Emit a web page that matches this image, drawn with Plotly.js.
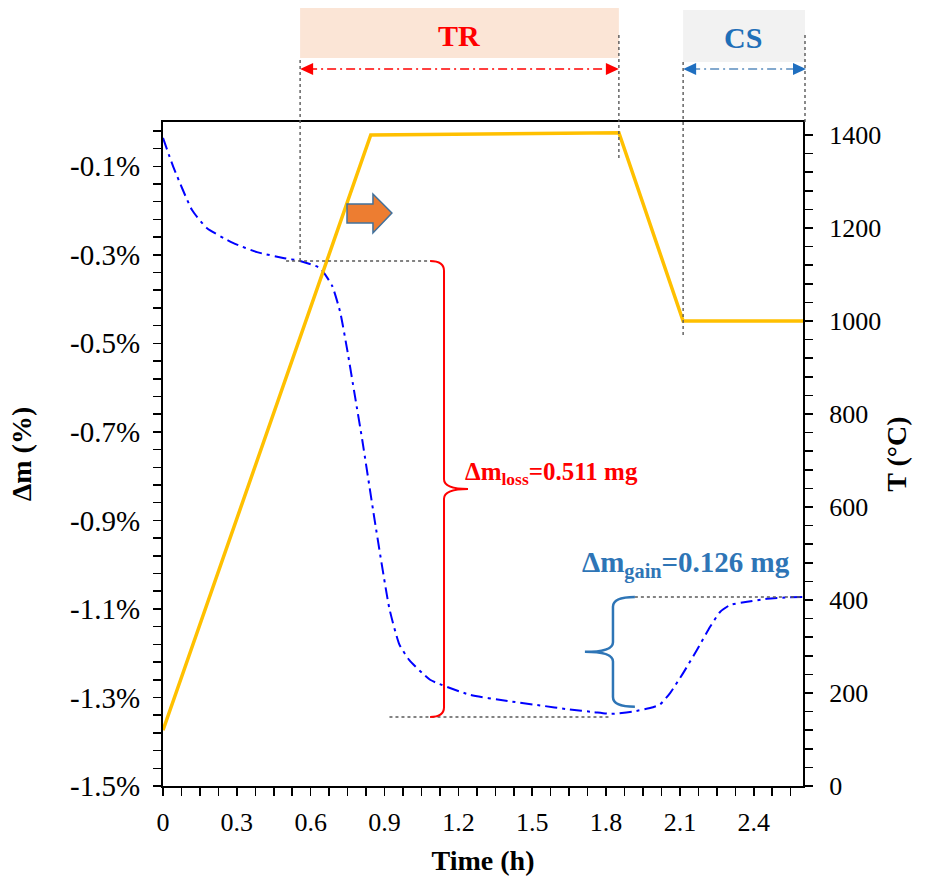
<!DOCTYPE html>
<html>
<head>
<meta charset="utf-8">
<script src="https://cdn.plot.ly/plotly-3.0.1.min.js"></script>
<style>
  html, body { margin: 0; padding: 0; background: #ffffff; }
  #chart { width: 931px; height: 881px; }
</style>
</head>
<body>
<div id="chart"></div>
<script>
// Mass change during the thermal program (left axis, %)
const massTime = [0, 0.041, 0.118, 0.179, 0.284, 0.382, 0.488, 0.557, 0.638, 0.687, 0.720,
                  0.750, 0.780, 0.810, 0.860, 0.920, 0.960, 1.000, 1.085, 1.247, 1.400,
                  1.532, 1.650, 1.750, 1.820, 1.909, 1.991, 2.019, 2.060, 2.113, 2.169,
                  2.222, 2.263, 2.304, 2.373, 2.454, 2.535, 2.600];
const massChange = [-0.036, -0.100, -0.199, -0.240, -0.273, -0.294, -0.307, -0.314, -0.330, -0.370, -0.430,
                    -0.520, -0.620, -0.720, -0.900, -1.100, -1.180, -1.215, -1.260, -1.294, -1.308,
                    -1.318, -1.327, -1.333, -1.337, -1.332, -1.322, -1.316, -1.290, -1.245, -1.193,
                    -1.141, -1.107, -1.091, -1.084, -1.077, -1.074, -1.073];

// Furnace temperature program (right axis, °C)
const tempTime = [0, 0.844, 1.852, 2.113, 2.600];
const temperature = [120, 1400, 1405, 1000, 1000];

// Axis ticks
const massTickVals = [-0.1, -0.3, -0.5, -0.7, -0.9, -1.1, -1.3, -1.5];
const massTickText = ['-0.1%', '-0.3%', '-0.5%', '-0.7%', '-0.9%', '-1.1%', '-1.3%', '-1.5%'];
const timeTickVals = [0, 0.3, 0.6, 0.9, 1.2, 1.5, 1.8, 2.1, 2.4];
const timeTickText = ['0', '0.3', '0.6', '0.9', '1.2', '1.5', '1.8', '2.1', '2.4'];

// Stage boundaries (h) and mass levels (%) used by the markers
const stageTR = [0.557, 1.852];
const stageCS = [2.113, 2.600];
const lossLevels = [-0.314, -1.344];
const gainLevels = [-1.073, -1.321];
const lossLabel = 'Δm<sub>loss</sub>=0.511 mg';
const gainLabel = 'Δm<sub>gain</sub>=0.126 mg';

const X_RANGE = [0, 2.6];
const Y_RANGE = [-1.5, 0];
const T_RANGE = [0, 1428];
const M = { l: 163, r: 128, t: 122, b: 95 };
const W = 931, H = 881;
const PW = W - M.l - M.r, PH = H - M.t - M.b;

const serif = 'Liberation Serif, Times New Roman, serif';

// helpers: data -> paper fractions, pixel lengths -> paper fractions
const xp = t => (t - X_RANGE[0]) / (X_RANGE[1] - X_RANGE[0]);
const yp = v => (v - Y_RANGE[0]) / (Y_RANGE[1] - Y_RANGE[0]);
const dx = px => px / PW;
const dy = px => px / PH;
const above = px => 1 + dy(px);

const GREY = '#595959';
const RED = '#ff0000';
const BLUE = '#2e75b6';

function vline(x, y0, y1) {
  return { type: 'line', xref: 'paper', yref: 'paper', x0: x, x1: x, y0: y0, y1: y1,
           line: { color: GREY, width: 1.4, dash: '3px,3px' } };
}
function hline(x0, x1, v) {
  return { type: 'line', xref: 'x', yref: 'y', x0: x0, x1: x1, y0: v, y1: v,
           line: { color: GREY, width: 1.4, dash: '3px,3px' } };
}
function arrowHead(xTip, y, dir, color) {
  const L = dx(13) * dir, h = dy(6);
  return { type: 'path', xref: 'paper', yref: 'paper',
           path: `M ${xTip},${y} L ${xTip + L},${y + h} L ${xTip + L},${y - h} Z`,
           fillcolor: color, line: { width: 0 } };
}
// curly brace in data units: ends at xEnd, spine at xBar, point at xTip
function brace(xEnd, xBar, xTip, yTop, yBot, d, color, width) {
  const ym = (yTop + yBot) / 2;
  const path = `M ${xEnd},${yTop} Q ${xBar},${yTop} ${xBar},${yTop - d} ` +
               `L ${xBar},${ym + d} Q ${xBar},${ym} ${xTip},${ym} ` +
               `Q ${xBar},${ym} ${xBar},${ym - d} L ${xBar},${yBot + d} ` +
               `Q ${xBar},${yBot} ${xEnd},${yBot}`;
  return { type: 'path', xref: 'x', yref: 'y', path: path, line: { color: color, width: width } };
}

const traces = [
  {
    x: massTime, y: massChange, yaxis: 'y', type: 'scatter', mode: 'lines',
    line: { color: '#0000ff', width: 2, dash: '12px,5px,3px,5px', shape: 'spline', smoothing: 0.5 },
    hoverinfo: 'skip', showlegend: false
  },
  {
    x: tempTime, y: temperature, yaxis: 'y2', type: 'scatter', mode: 'lines',
    line: { color: '#ffc000', width: 3.5 },
    hoverinfo: 'skip', showlegend: false
  }
];

const trMid = (xp(stageTR[0]) + xp(stageTR[1])) / 2;
const csMid = (xp(stageCS[0]) + xp(stageCS[1])) / 2;
const arrowY = above(53);

const shapes = [
  // stage banners
  { type: 'rect', xref: 'paper', yref: 'paper', x0: xp(stageTR[0]), x1: xp(stageTR[1]),
    y0: above(64), y1: above(114), fillcolor: '#fbe5d6', line: { width: 0 }, layer: 'below' },
  { type: 'rect', xref: 'paper', yref: 'paper', x0: xp(stageCS[0]), x1: xp(stageCS[1]) + dx(2),
    y0: above(60), y1: above(112), fillcolor: '#f2f2f2', line: { width: 0 }, layer: 'below' },
  // stage span arrows
  { type: 'line', xref: 'paper', yref: 'paper', x0: xp(stageTR[0]) + dx(8), x1: xp(stageTR[1]) - dx(8),
    y0: arrowY, y1: arrowY, line: { color: RED, width: 1.5, dash: '9px,4px,2px,4px' } },
  arrowHead(xp(stageTR[0]), arrowY, 1, RED),
  arrowHead(xp(stageTR[1]), arrowY, -1, RED),
  { type: 'line', xref: 'paper', yref: 'paper', x0: xp(stageCS[0]) + dx(8), x1: xp(stageCS[1]) - dx(6),
    y0: arrowY, y1: arrowY, line: { color: '#5b8dbe', width: 1.5, dash: '9px,4px,2px,4px' } },
  arrowHead(xp(stageCS[0]), arrowY, 1, '#1f6fc0'),
  arrowHead(xp(stageCS[1]) + dx(3), arrowY, -1, '#1f6fc0'),
  // stage boundary guides
  vline(xp(stageTR[0]), above(62), yp(lossLevels[0])),
  vline(xp(stageTR[1]), above(87), 1 - dy(38)),
  vline(xp(stageCS[0]), above(60), 1 - dy(215)),
  vline(xp(stageCS[1]) + dx(2), above(87), 1),
  // mass level guides
  hline(0.50, 1.085, lossLevels[0]),
  hline(0.92, 1.820, lossLevels[1]),
  hline(1.917, 2.6, gainLevels[0]),
  // braces
  brace(1.085, 1.1416, 1.239, lossLevels[0], lossLevels[1], 0.022, RED, 2),
  brace(1.917, 1.828, 1.714, gainLevels[0], gainLevels[1], 0.022, BLUE, 2.5),
  // heating direction arrow
  { type: 'path', xref: 'x', yref: 'y',
    path: 'M 0.7475,-0.185 L 0.853,-0.185 L 0.853,-0.1626 L 0.930,-0.2056 L 0.853,-0.2507 L 0.853,-0.228 L 0.7475,-0.228 Z',
    fillcolor: '#ed7d31', line: { color: '#41719c', width: 1.5 } }
];

const annotations = [
  { xref: 'paper', yref: 'paper', x: trMid, y: above(86), text: '<b>TR</b>', showarrow: false,
    font: { family: serif, size: 30, color: RED }, xanchor: 'center', yanchor: 'middle' },
  { xref: 'paper', yref: 'paper', x: csMid, y: above(84), text: '<b>CS</b>', showarrow: false,
    font: { family: serif, size: 30, color: '#1f6fb8' }, xanchor: 'center', yanchor: 'middle' },
  { xref: 'x', yref: 'y', x: 1.219, y: -0.793, text: '<b>' + lossLabel + '</b>', showarrow: false,
    font: { family: serif, size: 25, color: RED }, xanchor: 'left', yanchor: 'middle' },
  { xref: 'x', yref: 'y', x: 1.694, y: -1.0007, text: '<b>' + gainLabel + '</b>', showarrow: false,
    font: { family: serif, size: 29, color: BLUE }, xanchor: 'left', yanchor: 'middle' }
];

const tickFont = { family: serif, size: 26, color: '#000000' };
const titleFont = { family: serif, size: 28, color: '#000000' };
const minorTicks = { ticks: 'outside', ticklen: 8, tickwidth: 1.5, tickcolor: '#000000', showgrid: false };

const layout = {
  width: W, height: H,
  margin: M,
  paper_bgcolor: '#ffffff', plot_bgcolor: '#ffffff',
  font: { family: serif, color: '#000000' },
  showlegend: false,
  xaxis: {
    range: X_RANGE, showgrid: false, zeroline: false,
    showline: true, linecolor: '#000000', linewidth: 2, mirror: true,
    tickmode: 'array', tickvals: timeTickVals, ticktext: timeTickText,
    ticks: 'outside', ticklen: 8, tickwidth: 1.5, tickcolor: '#000000',
    minor: Object.assign({ tickmode: 'linear', tick0: 0, dtick: 0.075 }, minorTicks),
    tickfont: tickFont, ticklabelstandoff: 4,
    title: { text: '<b>Time (h)</b>', font: titleFont, standoff: 14 }
  },
  yaxis: {
    range: Y_RANGE, showgrid: false, zeroline: false,
    showline: true, linecolor: '#000000', linewidth: 2,
    tickmode: 'array', tickvals: massTickVals, ticktext: massTickText,
    ticks: 'outside', ticklen: 8, tickwidth: 1.5, tickcolor: '#000000',
    minor: Object.assign({ tickmode: 'linear', tick0: -0.1, dtick: 0.04 }, minorTicks),
    tickfont: Object.assign({}, tickFont, { size: 29 }), ticklabelstandoff: 7,
    title: { text: '<b>Δm (%)</b>', font: titleFont, standoff: 30 }
  },
  yaxis2: {
    range: T_RANGE, overlaying: 'y', side: 'right', showgrid: false, zeroline: false,
    showline: true, linecolor: '#000000', linewidth: 2,
    tickmode: 'linear', tick0: 0, dtick: 200,
    ticks: 'outside', ticklen: 8, tickwidth: 1.5, tickcolor: '#000000',
    minor: Object.assign({ tickmode: 'linear', tick0: 0, dtick: 40 }, minorTicks),
    tickfont: tickFont, ticklabelstandoff: 11,
    title: { text: '<b>T (°C)</b>', font: titleFont, standoff: 6 }
  },
  shapes: shapes,
  annotations: annotations
};

Plotly.newPlot('chart', traces, layout, { displayModeBar: false, staticPlot: true });
</script>
</body>
</html>
